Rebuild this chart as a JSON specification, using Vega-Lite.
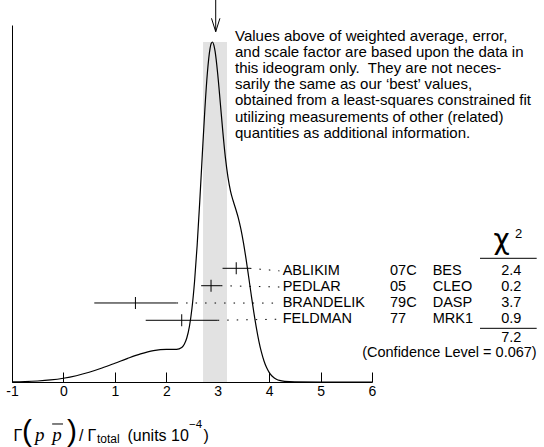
{
  "$schema": "https://vega.github.io/schema/vega-lite/v6.json",
  "width": 360,
  "height": 357,
  "autosize": {"type": "none"},
  "padding": {"left": 12, "top": 25, "right": 172, "bottom": 65},
  "background": "white",
  "config": {
    "view": {"stroke": null},
    "axis": {"grid": false, "domainColor": "black", "tickColor": "black", "labelColor": "black", "labelFont": "Liberation Sans", "labelFontSize": 14},
    "text": {"font": "Liberation Sans", "color": "black"}
  },
  "datasets": {
    "curve": [
      {"x": -1.0, "d": 0.0006}, {"x": -0.75, "d": 0.0013}, {"x": -0.5, "d": 0.003}, {"x": -0.25, "d": 0.006},
      {"x": 0.0, "d": 0.011}, {"x": 0.25, "d": 0.0185}, {"x": 0.5, "d": 0.0286}, {"x": 0.75, "d": 0.0411},
      {"x": 1.0, "d": 0.0551}, {"x": 1.25, "d": 0.0695}, {"x": 1.5, "d": 0.0826}, {"x": 1.75, "d": 0.0923},
      {"x": 2.0, "d": 0.0962}, {"x": 2.1, "d": 0.0959}, {"x": 2.2, "d": 0.0959}, {"x": 2.3, "d": 0.1015},
      {"x": 2.35, "d": 0.1111}, {"x": 2.4, "d": 0.1301}, {"x": 2.45, "d": 0.1638}, {"x": 2.5, "d": 0.2176},
      {"x": 2.55, "d": 0.2965}, {"x": 2.6, "d": 0.4016}, {"x": 2.65, "d": 0.529}, {"x": 2.7, "d": 0.668},
      {"x": 2.75, "d": 0.8017}, {"x": 2.8, "d": 0.911}, {"x": 2.85, "d": 0.98}, {"x": 2.875, "d": 0.9965},
      {"x": 2.9, "d": 1.0}, {"x": 2.925, "d": 0.991}, {"x": 2.95, "d": 0.9715}, {"x": 3.0, "d": 0.906},
      {"x": 3.05, "d": 0.8215}, {"x": 3.1, "d": 0.735}, {"x": 3.15, "d": 0.659}, {"x": 3.2, "d": 0.602},
      {"x": 3.25, "d": 0.561}, {"x": 3.3, "d": 0.533}, {"x": 3.35, "d": 0.5088}, {"x": 3.4, "d": 0.483},
      {"x": 3.45, "d": 0.4504}, {"x": 3.5, "d": 0.41}, {"x": 3.55, "d": 0.3628}, {"x": 3.6, "d": 0.311},
      {"x": 3.65, "d": 0.258}, {"x": 3.7, "d": 0.207}, {"x": 3.75, "d": 0.1607}, {"x": 3.8, "d": 0.1205},
      {"x": 3.85, "d": 0.0876}, {"x": 3.9, "d": 0.0617}, {"x": 3.95, "d": 0.0423}, {"x": 4.0, "d": 0.0283},
      {"x": 4.05, "d": 0.0183}, {"x": 4.1, "d": 0.0118}, {"x": 4.15, "d": 0.0074}, {"x": 4.2, "d": 0.0047},
      {"x": 4.3, "d": 0.002}, {"x": 4.5, "d": 0.0005}, {"x": 5.0, "d": 0.0}, {"x": 6.0, "d": 0.0}
    ],
    "meas": [
      {"name": "ABLIKIM", "code": "07C", "exp": "BES", "chi2": "2.4", "value": 3.36, "lo": 3.094, "hi": 3.626, "level": 0.3344, "textLevel": 0.3268},
      {"name": "PEDLAR", "code": "05", "exp": "CLEO", "chi2": "0.2", "value": 2.87, "lo": 2.678, "hi": 3.062, "level": 0.2832, "textLevel": 0.2794},
      {"name": "BRANDELIK", "code": "79C", "exp": "DASP", "chi2": "3.7", "value": 1.4, "lo": 0.6, "hi": 2.2, "level": 0.2324, "textLevel": 0.2321},
      {"name": "FELDMAN", "code": "77", "exp": "MRK1", "chi2": "0.9", "value": 2.3, "lo": 1.6, "hi": 3.0, "level": 0.1815, "textLevel": 0.1847}
    ],
    "avg": [{"lo": 2.715, "hi": 3.18}],
    "one": [{}]
  },
  "layer": [
    {
      "data": {"name": "avg"},
      "mark": {"type": "rect", "color": "#e2e2e2"},
      "encoding": {
        "x": {"field": "lo", "type": "quantitative"},
        "x2": {"field": "hi"},
        "y": {"datum": 0, "type": "quantitative"},
        "y2": {"datum": 1.0}
      }
    },
    {
      "data": {"name": "meas"},
      "mark": {"type": "rule", "color": "black", "strokeWidth": 1, "strokeDash": [1.5, 8]},
      "encoding": {
        "x": {"field": "hi", "type": "quantitative"},
        "x2": {"datum": 4.2},
        "y": {"field": "level", "type": "quantitative"},
        "y2": {"field": "textLevel"}
      }
    },
    {
      "data": {"name": "curve"},
      "mark": {"type": "line", "color": "black", "strokeWidth": 1.2, "interpolate": "monotone"},
      "encoding": {
        "x": {"field": "x", "type": "quantitative",
              "scale": {"domain": [-1, 6], "nice": false, "zero": false},
              "axis": {"values": [-1, 0, 1, 2, 3, 4, 5, 6], "tickSize": -10, "labelPadding": 12, "labelFlush": false, "labelOverlap": false, "title": null, "labelExpr": "toString(datum.value)", "labelFontSize": 14, "domainWidth": 1, "tickWidth": 1}},
        "y": {"field": "d", "type": "quantitative",
              "scale": {"domain": [0, 1.05], "nice": false, "zero": true},
              "axis": {"domain": true, "ticks": false, "labels": false, "title": null, "domainWidth": 1}}
      }
    },
    {
      "data": {"name": "meas"},
      "mark": {"type": "rule", "color": "black", "strokeWidth": 1},
      "encoding": {
        "x": {"field": "lo", "type": "quantitative"},
        "x2": {"field": "hi"},
        "y": {"field": "level", "type": "quantitative"}
      }
    },
    {
      "data": {"name": "meas"},
      "mark": {"type": "tick", "orient": "vertical", "size": 12, "thickness": 1, "color": "black", "opacity": 1},
      "encoding": {
        "x": {"field": "value", "type": "quantitative"},
        "y": {"field": "level", "type": "quantitative"}
      }
    },
    {
      "data": {"name": "meas"},
      "mark": {"type": "text", "fontSize": 14.5, "align": "left", "baseline": "middle"},
      "encoding": {"x": {"datum": 4.2636}, "y": {"field": "textLevel", "type": "quantitative"}, "text": {"field": "name"}}
    },
    {
      "data": {"name": "meas"},
      "mark": {"type": "text", "fontSize": 14.5, "align": "left", "baseline": "middle"},
      "encoding": {"x": {"datum": 6.35}, "y": {"field": "textLevel", "type": "quantitative"}, "text": {"field": "code"}}
    },
    {
      "data": {"name": "meas"},
      "mark": {"type": "text", "fontSize": 14.5, "align": "left", "baseline": "middle"},
      "encoding": {"x": {"datum": 7.18}, "y": {"field": "textLevel", "type": "quantitative"}, "text": {"field": "exp"}}
    },
    {
      "data": {"name": "meas"},
      "mark": {"type": "text", "fontSize": 14.5, "align": "center", "baseline": "middle"},
      "encoding": {"x": {"datum": 8.7086}, "y": {"field": "textLevel", "type": "quantitative"}, "text": {"field": "chi2"}}
    },
    {
      "data": {"name": "one"},
      "mark": {"type": "rule", "color": "black", "strokeWidth": 1},
      "encoding": {"x": {"datum": 8.1}, "x2": {"datum": 9.2025}, "y": {"datum": 0.3638}}
    },
    {
      "data": {"name": "one"},
      "mark": {"type": "rule", "color": "black", "strokeWidth": 1},
      "encoding": {"x": {"datum": 8.1}, "x2": {"datum": 9.2025}, "y": {"datum": 0.1579}}
    },
    {
      "data": {"name": "one"},
      "mark": {"type": "text", "fontSize": 14.5, "align": "center", "baseline": "middle", "text": "7.2"},
      "encoding": {"x": {"datum": 8.7086}, "y": {"datum": 0.1282}}
    },
    {
      "data": {"name": "one"},
      "mark": {"type": "text", "fontSize": 14.5, "align": "right", "baseline": "middle", "text": "(Confidence Level = 0.067)"},
      "encoding": {"x": {"datum": 9.2025}, "y": {"datum": 0.0856}}
    },
    {
      "data": {"name": "one"},
      "mark": {"type": "text", "font": "DejaVu Sans", "fontSize": 28, "align": "center", "baseline": "alphabetic", "text": "χ"},
      "encoding": {"x": {"datum": 8.522}, "y": {"datum": 0.3924}}
    },
    {
      "data": {"name": "one"},
      "mark": {"type": "text", "fontSize": 13, "align": "left", "baseline": "alphabetic", "text": "2"},
      "encoding": {"x": {"datum": 8.7806}, "y": {"datum": 0.4226}}
    },
    {
      "data": {"name": "one"},
      "mark": {"type": "text", "fontSize": 15, "align": "left", "baseline": "alphabetic", "lineHeight": 16.2,
               "text": ["Values above of weighted average, error,", "and scale factor are based upon the data in", "this ideogram only.\u00a0 They are not neces-", "sarily the same as our ‘best’ values,", "obtained from a least-squares constrained fit", "utilizing measurements of other (related)", "quantities as additional information."]},
      "encoding": {"x": {"datum": 3.336}, "y": {"datum": 1.0044}}
    },
    {
      "data": {"name": "one"},
      "mark": {"type": "rule", "color": "black", "strokeWidth": 1},
      "encoding": {"x": {"datum": 2.961}, "y": {"datum": 1.0303}, "y2": {"datum": 1.1235}}
    },
    {
      "data": {"name": "one"},
      "mark": {"type": "rule", "color": "black", "strokeWidth": 1},
      "encoding": {"x": {"datum": 2.879}, "y": {"datum": 1.0697}, "x2": {"datum": 2.961}, "y2": {"datum": 1.0303}}
    },
    {
      "data": {"name": "one"},
      "mark": {"type": "rule", "color": "black", "strokeWidth": 1},
      "encoding": {"x": {"datum": 3.043}, "y": {"datum": 1.0697}, "x2": {"datum": 2.961}, "y2": {"datum": 1.0303}}
    },
    {
      "data": {"name": "one"},
      "mark": {"type": "text", "fontSize": 16, "align": "left", "baseline": "alphabetic", "text": "Γ"},
      "encoding": {"x": {"datum": -0.9708}, "y": {"datum": -0.1735}}
    },
    {
      "data": {"name": "one"},
      "mark": {"type": "text", "fontSize": 30, "align": "left", "baseline": "alphabetic", "text": "("},
      "encoding": {"x": {"datum": -0.8056}, "y": {"datum": -0.1735}}
    },
    {
      "data": {"name": "one"},
      "mark": {"type": "text", "font": "Liberation Serif", "fontStyle": "italic", "fontSize": 19, "align": "left", "baseline": "alphabetic", "text": "p"},
      "encoding": {"x": {"datum": -0.5528}, "y": {"datum": -0.1735}}
    },
    {
      "data": {"name": "one"},
      "mark": {"type": "text", "font": "Liberation Serif", "fontStyle": "italic", "fontSize": 19, "align": "left", "baseline": "alphabetic", "text": "p"},
      "encoding": {"x": {"datum": -0.2194}, "y": {"datum": -0.1735}}
    },
    {
      "data": {"name": "one"},
      "mark": {"type": "rule", "color": "black", "strokeWidth": 1},
      "encoding": {"x": {"datum": -0.2194}, "x2": {"datum": -0.0083}, "y": {"datum": -0.1235}}
    },
    {
      "data": {"name": "one"},
      "mark": {"type": "text", "fontSize": 30, "align": "left", "baseline": "alphabetic", "text": ")"},
      "encoding": {"x": {"datum": 0.0694}, "y": {"datum": -0.1735}}
    },
    {
      "data": {"name": "one"},
      "mark": {"type": "text", "fontSize": 16, "align": "left", "baseline": "alphabetic", "text": "/"},
      "encoding": {"x": {"datum": 0.3028}, "y": {"datum": -0.1735}}
    },
    {
      "data": {"name": "one"},
      "mark": {"type": "text", "fontSize": 16, "align": "left", "baseline": "alphabetic", "text": "Γ"},
      "encoding": {"x": {"datum": 0.468}, "y": {"datum": -0.1735}}
    },
    {
      "data": {"name": "one"},
      "mark": {"type": "text", "fontSize": 12, "align": "left", "baseline": "alphabetic", "text": "total"},
      "encoding": {"x": {"datum": 0.6528}, "y": {"datum": -0.1803}}
    },
    {
      "data": {"name": "one"},
      "mark": {"type": "text", "fontSize": 16, "align": "left", "baseline": "alphabetic", "text": "(units 10"},
      "encoding": {"x": {"datum": 1.2458}, "y": {"datum": -0.1735}}
    },
    {
      "data": {"name": "one"},
      "mark": {"type": "text", "fontSize": 11.5, "align": "left", "baseline": "alphabetic", "text": "−4"},
      "encoding": {"x": {"datum": 2.4417}, "y": {"datum": -0.1353}}
    },
    {
      "data": {"name": "one"},
      "mark": {"type": "text", "fontSize": 16, "align": "left", "baseline": "alphabetic", "text": ")"},
      "encoding": {"x": {"datum": 2.7236}, "y": {"datum": -0.1735}}
    }
  ]
}
